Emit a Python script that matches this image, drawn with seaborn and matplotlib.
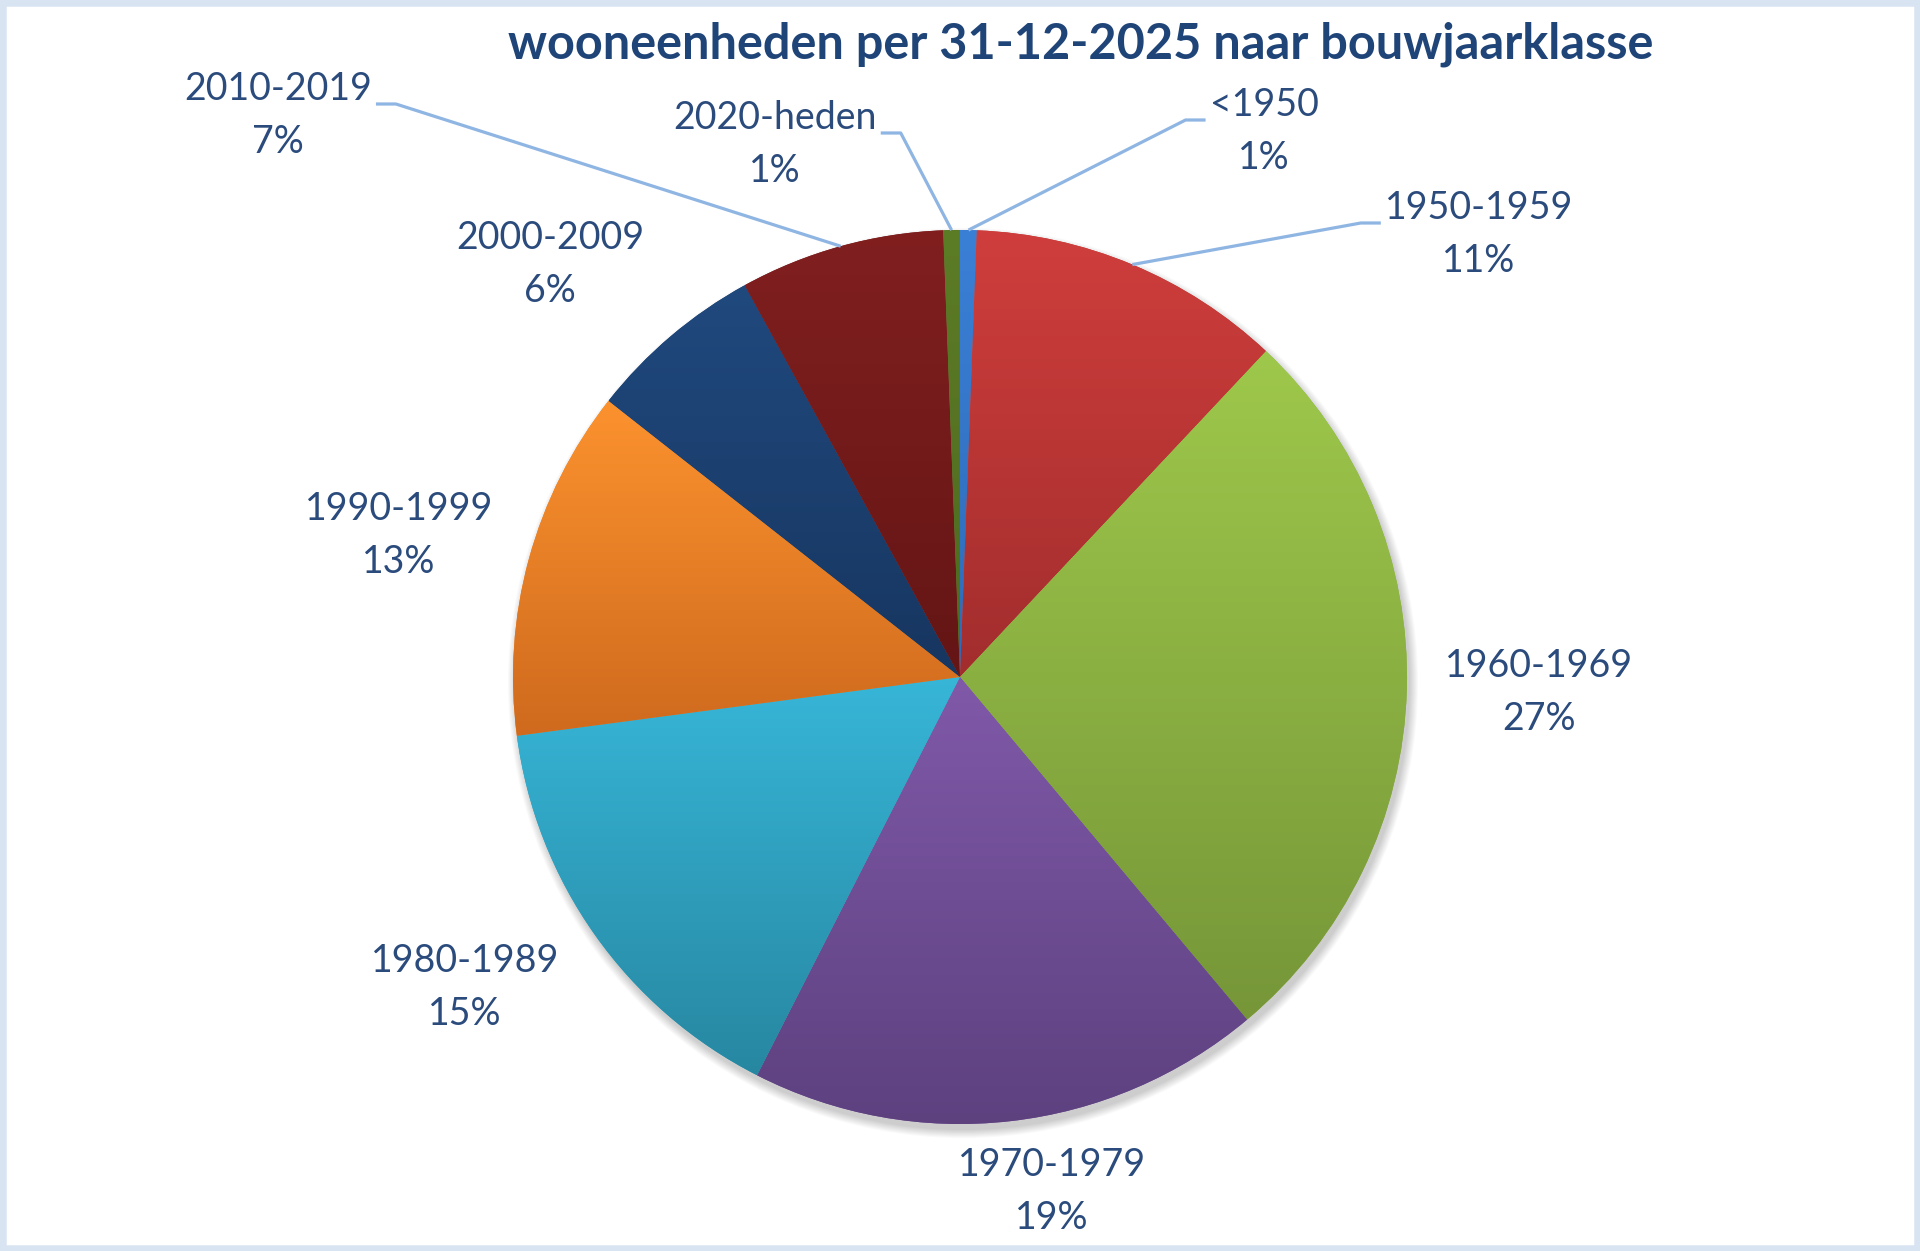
import numpy as np
import matplotlib
matplotlib.use("Agg")
import matplotlib.pyplot as plt
import matplotlib.colors as mcolors
from matplotlib.patches import Rectangle, Circle
import seaborn as sns

# share of housing units per construction period (percent)
categories = ["<1950", "1950-1959", "1960-1969", "1970-1979", "1980-1989",
              "1990-1999", "2000-2009", "2010-2019", "2020-heden"]
shares = [0.6, 11.4, 26.9, 18.6, 15.4, 12.7, 6.4, 7.4, 0.6]

top_colors = ["#3a80d6", "#cf3e3c", "#9ec84b", "#8059a9", "#37b6d8",
              "#fc922e", "#20497e", "#811f1f", "#5d7c26"]
bottom_colors = ["#2f6ab8", "#a22d2d", "#769638", "#5d417f", "#2787a1",
                 "#cf6a1e", "#173660", "#641515", "#4d6a1f"]

# label layout (pixel positions, y measured from the top of the image)
label_xy = [(1264, 105), (1479, 208), (1539, 666), (1052, 1165), (465, 961),
            (399, 509), (550, 238), (278, 89), (775, 118)]
leader_side = ["left", "left", None, None, None, None, None, "right", "right"]

title = "wooneenheden per 31-12-2025 naar bouwjaarklasse"
W, H = 1920, 1251
cx, cy, rad = 960, H - 677, 447
text_color = "#2a4b7c"
line_color = "#8fb5e3"

sns.set_theme(style="white")
plt.rcParams["font.family"] = ["Lato", "DejaVu Sans"]

fig = plt.figure(figsize=(W / 100, H / 100), dpi=100)
ax = fig.add_axes([0, 0, 1, 1])
ax.set_axis_off()

# soft shadow under the pie
for i in range(10):
    ax.add_patch(Circle((cx + 3, cy - 6), rad + i * 0.9, color="black",
                        alpha=0.018, lw=0, zorder=0))

wedges, _ = ax.pie(shares, colors=top_colors, startangle=90, counterclock=False,
                   center=(cx, cy), radius=rad, frame=True,
                   wedgeprops=dict(linewidth=0, zorder=1))

# vertical gradient fill for every slice
for w, ct, cb in zip(wedges, top_colors, bottom_colors):
    ext = w.get_path().get_extents()
    a = np.array(mcolors.to_rgb(ct))
    b = np.array(mcolors.to_rgb(cb))
    t = np.linspace(0, 1, 256)[:, None]
    grad = (a[None, :] * (1 - t) + b[None, :] * t)[:, None, :]
    w.set_facecolor(tuple((a + b) / 2))
    im = ax.imshow(grad, extent=[ext.x0, ext.x1, ext.y0, ext.y1],
                   aspect="auto", interpolation="bicubic", zorder=2)
    im.set_clip_path(w)

# labels
name_texts = []
for name, val, (lx, ly) in zip(categories, shares, label_xy):
    tn = ax.text(lx, H - ly, name, ha="center", va="center", fontsize=27,
                 color=text_color, zorder=5)
    ax.text(lx, H - ly - 53, f"{int(val + 0.5)}%", ha="center", va="center",
            fontsize=27, color=text_color, zorder=5)
    name_texts.append(tn)

ax.text(1081, H - 44, title, ha="center", va="center", fontsize=35,
        fontweight="bold", color="#1f4478", zorder=5)

ax.set_xlim(0, W)
ax.set_ylim(0, H)
ax.set_aspect("equal")

# leader lines from label to slice edge
fig.canvas.draw()
renderer = fig.canvas.get_renderer()
for w, tn, side in zip(wedges, name_texts, leader_side):
    if side is None:
        continue
    bb = tn.get_window_extent(renderer)
    sy = (bb.y0 + bb.y1) / 2 - 15
    if side == "right":
        sx0, sx1 = bb.x1 + 4, bb.x1 + 24
    else:
        sx0, sx1 = bb.x0 - 4, bb.x0 - 24
    mid = np.deg2rad((w.theta1 + w.theta2) / 2)
    px, py = cx + rad * np.cos(mid), cy + rad * np.sin(mid)
    ax.plot([sx0, sx1, px], [sy, sy, py], color=line_color, lw=2.3,
            solid_capstyle="butt", zorder=4)

fig.patches.append(Rectangle((0, 0), 1, 1, transform=fig.transFigure,
                             fill=False, edgecolor="#d9e4f2", lw=9, zorder=10))

fig.savefig("out.png", dpi=100)
plt.close(fig)
